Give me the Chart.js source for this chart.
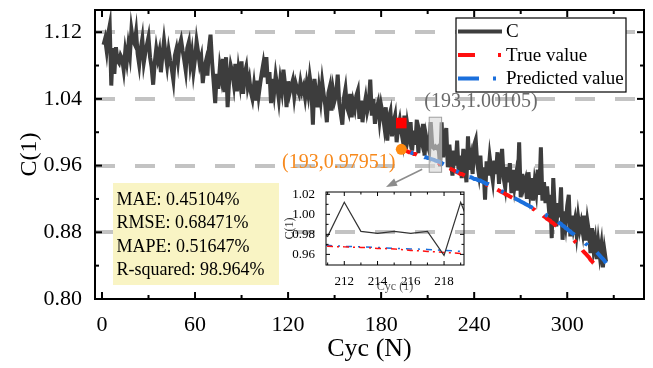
<!DOCTYPE html>
<html>
<head>
<meta charset="utf-8">
<script src="https://cdn.jsdelivr.net/npm/chart.js@4.4.1/dist/chart.umd.min.js"></script>
<style>
  body { margin: 0; background: #fff; }
  #wrap { position: relative; width: 653px; height: 368px; }
  #main { position: absolute; left: 0; top: 0; }
  #inset { position: absolute; left: 280px; top: 180px; }
</style>
</head>
<body>
<div id="wrap">
  <canvas id="main" width="653" height="368"></canvas>
  <canvas id="inset" width="200" height="120"></canvas>
</div>
<script>
// Measured capacity C, one value per cycle starting at cycle 1
const capacity = [
  1.105, 1.112, 1.098, 1.118, 1.128, 1.056, 1.101, 1.070, 1.102, 1.086,
  1.083, 1.092, 1.088, 1.075, 1.097, 1.085, 1.104, 1.092, 1.123, 1.110,
  1.106, 1.120, 1.094, 1.081, 1.100, 1.112, 1.084, 1.096, 1.105, 1.114,
  1.090, 1.078, 1.057, 1.083, 1.100, 1.088, 1.097, 1.072, 1.093, 1.110,
  1.094, 1.080, 1.098, 1.086, 1.076, 1.063, 1.092, 1.100, 1.085, 1.104,
  1.111, 1.098, 1.087, 1.074, 1.101, 1.108, 1.082, 1.095, 1.073, 1.088,
  1.109, 1.096, 1.082, 1.090, 1.059, 1.077, 1.085, 1.068, 1.101, 1.117,
  1.084, 1.060, 1.035, 1.070, 1.052, 1.078, 1.066, 1.088, 1.048, 1.090,
  1.030, 1.062, 1.080, 1.072, 1.058, 1.082, 1.049, 1.074, 1.060, 1.085,
  1.046, 1.070, 1.078, 1.055, 1.064, 1.048, 1.040, 1.056, 1.038, 1.062,
  1.044, 1.058, 1.071, 1.082, 1.066, 1.090, 1.058, 1.072, 1.035, 1.064,
  1.048, 1.068, 1.055, 1.040, 1.062, 1.050, 1.075, 1.058, 1.030, 1.061,
  1.047, 1.055, 1.062, 1.043, 1.058, 1.051, 1.046, 1.060, 1.049, 1.055,
  1.042, 1.058, 1.046, 1.066, 1.052, 1.009, 1.064, 1.048, 1.030, 1.052,
  1.038, 1.060, 1.045, 1.032, 1.012, 1.047, 1.055, 1.026, 1.050, 1.038,
  1.045, 1.069, 1.035, 1.022, 1.009, 1.041, 1.052, 1.030, 1.024, 1.046,
  1.018, 1.036, 1.028, 1.044, 1.050, 1.016, 1.038, 1.012, 1.030, 1.041,
  1.025, 1.034, 1.063, 1.020, 1.040, 1.010, 1.028, 1.035, 1.015, 1.032,
  1.022, 1.008, 1.030, 0.990, 1.018, 1.025, 0.995, 1.012, 1.020, 0.988,
  1.006, 1.015, 1.001, 0.990, 1.020, 0.980, 1.008, 0.996, 1.012, 0.978,
  1.002, 0.985, 1.015, 0.975, 0.998, 0.990, 1.010, 0.972, 0.995, 0.985,
  0.978, 1.012, 0.983, 0.981, 0.983, 0.981, 0.983, 0.959, 1.012, 0.970,
  0.992, 1.005, 0.958, 0.985, 0.965, 0.948, 0.978, 0.960, 0.990, 0.952,
  0.972, 0.945, 0.980, 0.962, 0.940, 0.995, 0.955, 0.968, 0.950, 0.985,
  0.991, 0.962, 0.950, 0.972, 0.940, 0.958, 0.919, 0.965, 0.948, 0.970,
  0.955, 0.942, 0.966, 0.950, 0.976, 0.938, 0.962, 0.980, 0.945, 0.934,
  0.958, 0.940, 0.963, 0.927, 0.955, 0.935, 0.948, 0.930, 0.988, 0.922,
  0.950, 0.935, 0.942, 0.920, 0.952, 0.930, 0.945, 0.918, 0.940, 0.928,
  0.955, 0.925, 0.982, 0.918, 0.940, 0.915, 0.935, 0.912, 0.925, 0.873,
  0.945, 0.905, 0.887, 0.915, 0.898, 0.934, 0.871, 0.905, 0.890, 0.912,
  0.925, 0.875, 0.900, 0.885, 0.895, 0.878, 0.898, 0.883, 0.892, 0.880,
  0.900, 0.870, 0.893, 0.880, 0.855, 0.885, 0.860, 0.871, 0.848, 0.868,
  0.852, 0.865, 0.838, 0.858, 0.845
];

// True and predicted values, one per cycle starting at cycle 193
const predStart = 193;
const trueValue = [
  0.9795, 0.979, 0.978, 0.978, 0.977, 0.976, 0.976, 0.975, 0.974, 0.974,
  0.973, 0.972, 0.972, 0.971, 0.970, 0.970, 0.969, 0.968, 0.968, 0.9675,
  0.967, 0.966, 0.9655, 0.964, 0.963, 0.962, 0.961, 0.960, 0.959, 0.959,
  0.958, 0.957, 0.956, 0.955, 0.954, 0.953, 0.952, 0.951, 0.950, 0.950,
  0.949, 0.948, 0.947, 0.946, 0.945, 0.945, 0.944, 0.944, 0.943, 0.942,
  0.941, 0.941, 0.940, 0.939, 0.938, 0.937, 0.937, 0.936, 0.935, 0.934,
  0.933, 0.932, 0.931, 0.930, 0.929, 0.928, 0.927, 0.926, 0.925, 0.924,
  0.923, 0.922, 0.921, 0.920, 0.919, 0.918, 0.917, 0.916, 0.915, 0.914,
  0.913, 0.912, 0.911, 0.910, 0.909, 0.908, 0.907, 0.905, 0.904, 0.903,
  0.902, 0.901, 0.899, 0.898, 0.896, 0.895, 0.894, 0.892, 0.891, 0.889,
  0.888, 0.886, 0.885, 0.883, 0.882, 0.880, 0.879, 0.877, 0.876, 0.874,
  0.873, 0.871, 0.869, 0.867, 0.865, 0.863, 0.861, 0.858, 0.856, 0.854,
  0.852, 0.850, 0.847, 0.845, 0.843, 0.840, 0.838
];
const predValue = [
  0.9795, 0.979, 0.978, 0.978, 0.977, 0.977, 0.976, 0.975, 0.975, 0.974,
  0.973, 0.973, 0.972, 0.971, 0.971, 0.970, 0.970, 0.969, 0.969, 0.968,
  0.9675, 0.967, 0.966, 0.9655, 0.965, 0.964, 0.963, 0.962, 0.961, 0.960,
  0.959, 0.958, 0.957, 0.956, 0.955, 0.954, 0.953, 0.952, 0.951, 0.951,
  0.950, 0.949, 0.948, 0.947, 0.946, 0.946, 0.945, 0.944, 0.944, 0.943,
  0.942, 0.942, 0.941, 0.940, 0.939, 0.938, 0.938, 0.937, 0.936, 0.935,
  0.934, 0.933, 0.932, 0.931, 0.930, 0.929, 0.928, 0.927, 0.926, 0.925,
  0.924, 0.923, 0.922, 0.921, 0.920, 0.919, 0.918, 0.917, 0.916, 0.915,
  0.914, 0.913, 0.912, 0.911, 0.910, 0.909, 0.908, 0.907, 0.906, 0.905,
  0.904, 0.903, 0.902, 0.901, 0.900, 0.899, 0.898, 0.897, 0.896, 0.895,
  0.894, 0.893, 0.891, 0.890, 0.888, 0.887, 0.885, 0.884, 0.882, 0.881,
  0.879, 0.878, 0.876, 0.875, 0.874, 0.872, 0.871, 0.869, 0.868, 0.866,
  0.865, 0.863, 0.862, 0.860, 0.859, 0.857, 0.856, 0.854, 0.852, 0.850,
  0.848, 0.846, 0.843
];

// Highlighted points and their labels
const markTrue = { x: 193, y: 1.011 };
const markPred = { x: 193, y: 0.97951 };
const labelTrue = '(193,1.00105)';
const labelPred = '(193,0.97951)';

// Axis ticks
const xMajor = [0, 60, 120, 180, 240, 300];
const xMinor = [30, 90, 150, 210, 270, 330];
const yMajor = [0.80, 0.88, 0.96, 1.04, 1.12];
const yMinor = [0.84, 0.92, 1.00, 1.08];
const yLabels = ['0.80', '0.88', '0.96', '1.04', '1.12'];
const insetXMajor = [212, 214, 216, 218];
const insetXMinor = [211, 213, 215, 217, 219];
const insetYMajor = [0.96, 0.98, 1.00, 1.02];
const insetYMinor = [0.97, 0.99, 1.01];
const insetYLabels = ['0.96', '0.98', '1.00', '1.02'];

// Zoom window [x from, x to, y from, y to]
const zoomBox = [211, 219, 0.952, 1.018];
const metrics = ['MAE: 0.45104%', 'RMSE: 0.68471%', 'MAPE: 0.51647%', 'R-squared: 98.964%'];

const serif = "'Liberation Serif', 'Times New Roman', serif";
Chart.defaults.font.family = serif;
Chart.defaults.color = '#000';

const colores = {
    linea: '#3d3d3d',
    real: '#ff1010',
    pred: '#1a6fdc',
    naranja: '#f7891c',
    rejilla: '#c3c3c3',
    caja: '#f9f4c4'
};

const cData = capacity.map((v, i) => ({ x: i + 1, y: v }));
const trueData = trueValue.map((v, i) => ({ x: predStart + i, y: v }));
const predData = predValue.map((v, i) => ({ x: predStart + i, y: v }));

// Fixed scale box sizes, no extra label padding
const fijar = (dim, val) => s => {
    s[dim] = val;
    s.paddingTop = 0; s.paddingBottom = 0; s.paddingLeft = 0; s.paddingRight = 0;
};

// Frame with ticks pointing inward on all four sides
const marcoPlugin = {
    id: 'marco',
    afterDraw(chart, args, o) {
        const { ctx, chartArea: a, scales: { x, y } } = chart;
        const seg = (x1, y1, x2, y2) => { ctx.beginPath(); ctx.moveTo(x1, y1); ctx.lineTo(x2, y2); ctx.stroke(); };
        ctx.save();
        ctx.strokeStyle = '#000';
        ctx.lineWidth = o.tickWidth;
        const xMarks = (vals, len) => vals.forEach(v => {
            const p = x.getPixelForValue(v);
            if (p < a.left || p > a.right) return;
            seg(p, a.bottom, p, a.bottom - len);
            seg(p, a.top, p, a.top + len);
        });
        const yMarks = (vals, len) => vals.forEach(v => {
            const p = y.getPixelForValue(v);
            if (p < a.top || p > a.bottom) return;
            seg(a.left, p, a.left + len, p);
            seg(a.right, p, a.right - len, p);
        });
        xMarks(o.xMajor, o.major);
        xMarks(o.xMinor, o.minor);
        yMarks(o.yMajor, o.major);
        yMarks(o.yMinor, o.minor);
        ctx.lineWidth = o.frameWidth;
        ctx.strokeRect(a.left, a.top, a.right - a.left, a.bottom - a.top);
        ctx.restore();
    }
};

// Annotations, metrics box and legend of the main chart
const notasPlugin = {
    id: 'notas',
    afterDatasetsDraw(chart) {
        const { ctx, scales: { x, y } } = chart;
        ctx.save();

        // zoom window and arrow to the inset
        const bx1 = x.getPixelForValue(zoomBox[0]), bx2 = x.getPixelForValue(zoomBox[1]);
        const by1 = y.getPixelForValue(zoomBox[3]), by2 = y.getPixelForValue(zoomBox[2]);
        ctx.fillStyle = 'rgba(215,215,215,0.6)';
        ctx.fillRect(bx1, by1, bx2 - bx1, by2 - by1);
        ctx.strokeStyle = '#a0a0a0';
        ctx.lineWidth = 1;
        ctx.strokeRect(bx1, by1, bx2 - bx1, by2 - by1);

        const ax1 = bx1 - 7, ay1 = by2 - 3, ax2 = 386, ay2 = 187;
        const ang = Math.atan2(ay2 - ay1, ax2 - ax1);
        ctx.strokeStyle = '#8c8c8c';
        ctx.fillStyle = '#8c8c8c';
        ctx.lineWidth = 1.5;
        ctx.beginPath();
        ctx.moveTo(ax1, ay1);
        ctx.lineTo(ax2 - 8 * Math.cos(ang), ay2 - 8 * Math.sin(ang));
        ctx.stroke();
        ctx.beginPath();
        ctx.moveTo(ax2, ay2);
        ctx.lineTo(ax2 - 11 * Math.cos(ang) + 4 * Math.sin(ang), ay2 - 11 * Math.sin(ang) - 4 * Math.cos(ang));
        ctx.lineTo(ax2 - 11 * Math.cos(ang) - 4 * Math.sin(ang), ay2 - 11 * Math.sin(ang) + 4 * Math.cos(ang));
        ctx.closePath();
        ctx.fill();

        // point labels
        ctx.font = '20px ' + serif;
        ctx.textBaseline = 'middle';
        ctx.textAlign = 'left';
        ctx.fillStyle = '#6a6a6a';
        ctx.fillText(labelTrue, x.getPixelForValue(markTrue.x) + 23, y.getPixelForValue(markTrue.y) - 21);
        ctx.textAlign = 'right';
        ctx.fillStyle = colores.naranja;
        ctx.fillText(labelPred, x.getPixelForValue(markPred.x) - 6, y.getPixelForValue(markPred.y) + 13);

        // metrics box
        ctx.fillStyle = colores.caja;
        ctx.fillRect(113, 183, 166, 102);
        ctx.fillStyle = '#000';
        ctx.textAlign = 'left';
        ctx.font = '18px ' + serif;
        metrics.forEach((t, i) => ctx.fillText(t, 116.5, 200 + i * 23.5));

        // legend
        ctx.fillStyle = '#fff';
        ctx.fillRect(456, 18, 170, 74);
        ctx.strokeStyle = '#000';
        ctx.lineWidth = 1.2;
        ctx.strokeRect(456, 18, 170, 74);
        ctx.font = '19px ' + serif;
        chart.data.datasets.slice(0, 3).forEach((ds, i) => {
            const ly = 31.5 + i * 23.5;
            ctx.strokeStyle = ds.borderColor;
            ctx.lineWidth = 4;
            ctx.setLineDash(ds.borderDash || []);
            ctx.beginPath();
            ctx.moveTo(458, ly);
            ctx.lineTo(502, ly);
            ctx.stroke();
            ctx.setLineDash([]);
            ctx.fillStyle = '#000';
            ctx.fillText(ds.label, 506, ly + 1);
        });
        ctx.restore();
    }
};

new Chart(document.getElementById('main'), {
    type: 'line',
    data: {
        datasets: [
            { label: 'C', data: cData, borderColor: colores.linea, borderWidth: 4, pointRadius: 0, order: 3 },
            { label: 'True value', data: trueData, borderColor: colores.real, borderWidth: 4, borderDash: [17, 23, 3, 10], pointRadius: 0, order: 2 },
            { label: 'Predicted value', data: predData, borderColor: colores.pred, borderWidth: 4, borderDash: [21, 14, 3, 12], borderDashOffset: 25, pointRadius: 0, order: 1 },
            { label: 'true point', data: [markTrue], showLine: false, pointStyle: 'rect', pointRadius: 7.5, backgroundColor: '#ff0000', borderWidth: 0, order: 0 },
            { label: 'pred point', data: [markPred], showLine: false, pointRadius: 5.5, backgroundColor: '#ff8a10', borderWidth: 0, order: 0 }
        ]
    },
    options: {
        responsive: false,
        animation: false,
        events: [],
        layout: { padding: { left: 0, top: 10, right: 9, bottom: 0 } },
        plugins: {
            legend: { display: false },
            tooltip: { enabled: false },
            marco: { xMajor, xMinor, yMajor, yMinor, major: 7, minor: 4, tickWidth: 2, frameWidth: 2 }
        },
        scales: {
            x: {
                type: 'linear', min: -4.5, max: 349.5,
                afterBuildTicks: s => { s.ticks = xMajor.map(v => ({ value: v })); },
                afterFit: fijar('height', 69),
                grid: { display: false },
                border: { display: false },
                ticks: { font: { size: 22 }, padding: 5, maxRotation: 0, autoSkip: false },
                title: { display: true, text: 'Cyc (N)', font: { size: 26 }, padding: { top: 0, bottom: 3 } }
            },
            y: {
                type: 'linear', min: 0.80, max: 1.1466,
                afterBuildTicks: s => { s.ticks = yMajor.map(v => ({ value: v })); },
                afterFit: fijar('width', 95),
                grid: {
                    drawTicks: false,
                    lineWidth: 4,
                    color: c => c.index === 0 ? 'rgba(0,0,0,0)' : colores.rejilla
                },
                border: { display: false, dash: [20, 20] },
                ticks: { font: { size: 22 }, padding: 13, callback: (v, i) => yLabels[i] },
                title: { display: true, text: 'C(1)', font: { size: 24 }, padding: { top: 15, bottom: 0 } }
            }
        }
    },
    plugins: [marcoPlugin, notasPlugin]
});

// Inset: zoom on cycles 211-219
new Chart(document.getElementById('inset'), {
    type: 'line',
    data: {
        datasets: [
            { data: cData, borderColor: '#333', borderWidth: 1.2, pointRadius: 0 },
            { data: trueData, borderColor: colores.real, borderWidth: 1.5, borderDash: [6, 4, 2, 4], pointRadius: 0 },
            { data: predData, borderColor: colores.pred, borderWidth: 1.5, borderDash: [6, 6, 2, 6], borderDashOffset: 5, pointRadius: 0 }
        ]
    },
    options: {
        responsive: false,
        animation: false,
        events: [],
        layout: { padding: { left: 0, top: 12, right: 16, bottom: 0 } },
        plugins: {
            legend: { display: false },
            tooltip: { enabled: false },
            marco: { xMajor: insetXMajor, xMinor: insetXMinor, yMajor: insetYMajor, yMinor: insetYMinor, major: 4, minor: 2.5, tickWidth: 1, frameWidth: 1 }
        },
        scales: {
            x: {
                type: 'linear', min: 210.9, max: 219.2,
                afterBuildTicks: s => { s.ticks = insetXMajor.map(v => ({ value: v })); },
                afterFit: fijar('height', 35),
                grid: { display: false },
                border: { display: false },
                ticks: { font: { size: 13 }, padding: 1, maxRotation: 0, autoSkip: false },
                title: { display: true, text: 'Cyc (1)', color: '#555', font: { size: 12 }, padding: { top: 0, bottom: 6 } }
            },
            y: {
                type: 'linear', min: 0.9494, max: 1.0223,
                afterBuildTicks: s => { s.ticks = insetYMajor.map(v => ({ value: v })); },
                afterFit: fijar('width', 46),
                grid: { display: false },
                border: { display: false },
                ticks: { font: { size: 13 }, padding: 3, callback: (v, i) => insetYLabels[i] },
                title: { display: true, text: 'C(1)', color: '#333', font: { size: 12 }, padding: { top: 3, bottom: 0 } }
            }
        }
    },
    plugins: [marcoPlugin]
});
</script>
</body>
</html>
